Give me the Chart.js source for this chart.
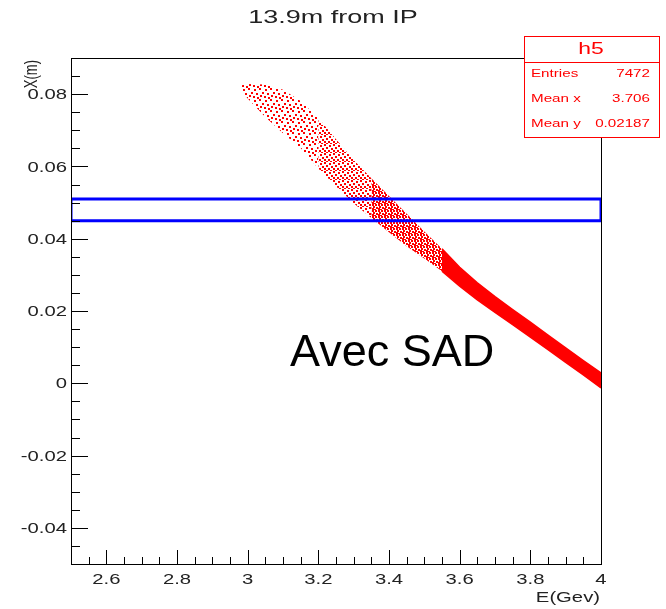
<!DOCTYPE html>
<html>
<head>
<meta charset="utf-8">
<script src="https://cdn.jsdelivr.net/npm/chart.js@4.4.1/dist/chart.umd.min.js"></script>
<style>
  html, body { margin: 0; padding: 0; background: #fff; }
</style>
</head>
<body>
<canvas id="myChart" width="666" height="609"></canvas>
<script>
// band of the E vs X scatter (upper / lower edge)
const bandE     = [2.98, 3.00, 3.05, 3.10, 3.15, 3.20, 3.25, 3.30, 3.35, 3.40, 3.45, 3.50, 3.55, 3.60, 3.65, 3.70, 3.75, 3.80, 3.85, 3.90, 3.95, 4.00];
const bandUpper = [0.0824, 0.0828, 0.0827, 0.0812, 0.0781, 0.0734, 0.0675, 0.0618, 0.0567, 0.0518, 0.0469, 0.0420, 0.0372, 0.0321, 0.0278, 0.0240, 0.0204, 0.0169, 0.0133, 0.0098, 0.0063, 0.0029];
const bandLower = [0.0812, 0.0788, 0.0737, 0.0692, 0.0651, 0.0594, 0.0545, 0.0498, 0.0457, 0.0418, 0.0379, 0.0345, 0.0310, 0.0269, 0.0231, 0.0196, 0.0162, 0.0128, 0.0093, 0.0058, 0.0023, -0.0013];

// selection window (blue box)
const boxLow = 0.045;
const boxHigh = 0.051;

const xTicks = [2.6, 2.8, 3, 3.2, 3.4, 3.6, 3.8, 4];
const xLabels = ['2.6', '2.8', '3', '3.2', '3.4', '3.6', '3.8', '4'];
const yTicks = [-0.04, -0.02, 0, 0.02, 0.04, 0.06, 0.08];
const yLabels = ['-0.04', '-0.02', '0', '0.02', '0.04', '0.06', '0.08'];

const statName = 'h5';
const statLabels = ['Entries', 'Mean x', 'Mean y'];
const statValues = ['7472', '3.706', '0.02187'];

const RED = '#ff0000';
const FONT = '"Liberation Sans", Arial, sans-serif';

function makePattern(size, dots) {
  const c = document.createElement('canvas');
  c.width = size; c.height = size;
  const g = c.getContext('2d');
  g.fillStyle = RED;
  dots.forEach(d => g.fillRect(d[0], d[1], 2, 2));
  return g.createPattern(c, 'repeat');
}
const sparseFill = makePattern(11, [[1,1],[6,0],[9,4],[3,5],[7,7],[0,8],[4,9]]);
const midFill = makePattern(9, [[0,0],[5,1],[2,3],[7,4],[0,6],[4,6],[2,8],[6,8]]);
const denseFill = makePattern(6, [[0,0],[3,0],[1,2],[4,3],[0,4],[2,5]]);

function pts(arr, a, b) {
  const out = [];
  for (let i = a; i <= b; i++) out.push({x: bandE[i], y: arr[i]});
  return out;
}

function section(a, b, fill, edge) {
  return [
    {data: pts(bandUpper, a, b), fill: '+1', backgroundColor: fill,
     borderColor: edge ? RED : 'rgba(0,0,0,0)', borderWidth: edge ? 1.5 : 1, pointRadius: 0},
    {data: pts(bandLower, a, b), fill: false,
     borderColor: edge ? RED : 'rgba(0,0,0,0)', borderWidth: edge ? 1.5 : 1, pointRadius: 0}
  ];
}

const blueBox = {
  data: [{x: 2.5, y: boxLow}, {x: 4, y: boxLow}, {x: 4, y: boxHigh}, {x: 2.5, y: boxHigh}, {x: 2.5, y: boxLow}],
  borderColor: '#0000ff', borderWidth: 3, fill: false, pointRadius: 0
};

function sText(g, text, x, y, align, size, color, sx) {
  g.save();
  g.translate(x, y);
  g.scale(sx, 1);
  g.font = size + 'px ' + FONT;
  g.fillStyle = color;
  g.textAlign = align;
  g.textBaseline = 'middle';
  g.fillText(text, 0, 0);
  g.restore();
}

const rootFrame = {
  id: 'rootFrame',
  afterDraw(chart) {
    const g = chart.ctx;
    const a = chart.chartArea;
    const xs = chart.scales.x, ys = chart.scales.y;
    g.save();
    g.strokeStyle = '#000';
    g.lineWidth = 1;
    g.strokeRect(a.left + 0.5, a.top + 0.5, a.right - a.left, a.bottom - a.top);

    // ticks drawn inside the frame
    g.beginPath();
    for (let i = 0; i <= 30; i++) {
      const v = 2.5 + i * 0.05;
      const px = Math.round(xs.getPixelForValue(v)) + 0.5;
      const len = (i % 4 === 2) ? 14 : 7;
      g.moveTo(px, a.bottom);
      g.lineTo(px, a.bottom - len);
    }
    for (let i = 0; i <= 28; i++) {
      const v = -0.05 + i * 0.005;
      const py = Math.round(ys.getPixelForValue(v)) + 0.5;
      const len = (i % 4 === 2) ? 17 : 9;
      g.moveTo(a.left, py);
      g.lineTo(a.left + len, py);
    }
    g.stroke();

    xTicks.forEach((v, i) => sText(g, xLabels[i], xs.getPixelForValue(v), a.bottom + 16, 'center', 15, '#222', 1.35));
    yTicks.forEach((v, i) => sText(g, yLabels[i], a.left - 4, ys.getPixelForValue(v) + 1, 'right', 15, '#222', 1.35));

    sText(g, 'E(Gev)', 600, 598, 'right', 15, '#222', 1.35);
    sText(g, '13.9m from IP', 333, 18, 'center', 19, '#222', 1.42);

    // y axis title, rotated
    g.save();
    g.translate(37, 60);
    g.rotate(-Math.PI / 2);
    g.scale(1, 1.35);
    g.font = '13px ' + FONT;
    g.fillStyle = '#222';
    g.textAlign = 'right';
    g.textBaseline = 'alphabetic';
    g.fillText('X(m)', 0, 0);
    g.restore();

    // stats box
    g.fillStyle = '#fff';
    g.fillRect(524, 36, 136, 102);
    g.strokeStyle = RED;
    g.strokeRect(524.5, 36.5, 135, 101);
    g.beginPath();
    g.moveTo(524, 62.5);
    g.lineTo(660, 62.5);
    g.stroke();
    sText(g, statName, 591, 49, 'center', 17, RED, 1.35);
    const rowY = [74, 99, 124];
    statLabels.forEach((t, i) => {
      sText(g, t, 531, rowY[i], 'left', 11, RED, 1.38);
      sText(g, statValues[i], 650, rowY[i], 'right', 11, RED, 1.38);
    });

    // annotation
    g.font = '45px ' + FONT;
    g.fillStyle = '#000';
    g.textAlign = 'left';
    g.textBaseline = 'alphabetic';
    g.fillText('Avec SAD', 290, 366);
    g.restore();
  }
};

const ctx = document.getElementById('myChart');

new Chart(ctx, {
  type: 'line',
  data: {
    datasets: [
      blueBox,
      ...section(0, 5, sparseFill, false),
      ...section(5, 8, midFill, false),
      ...section(8, 12, denseFill, false),
      ...section(12, 21, RED, true)
    ]
  },
  options: {
    responsive: false,
    animation: false,
    devicePixelRatio: 1,
    layout: { padding: { left: 0, top: 58, right: 65, bottom: 0 } },
    plugins: {
      legend: { display: false },
      tooltip: { enabled: false },
      title: { display: false }
    },
    elements: { line: { tension: 0 } },
    scales: {
      x: {
        type: 'linear', min: 2.5, max: 4,
        ticks: { display: false },
        grid: { display: false },
        border: { display: false },
        afterFit: s => { s.height = 45; }
      },
      y: {
        type: 'linear', min: -0.05, max: 0.09,
        ticks: { display: false },
        grid: { display: false },
        border: { display: false },
        afterFit: s => { s.width = 71; }
      }
    }
  },
  plugins: [rootFrame]
});
</script>
</body>
</html>
